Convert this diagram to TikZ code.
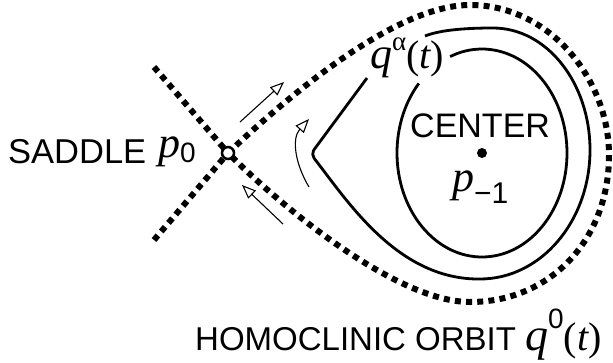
\documentclass[tikz,border=0pt]{standalone}
\usepackage{fontspec}
\setmainfont{Liberation Sans}
\newfontfamily\serif{Liberation Serif}
\usetikzlibrary{arrows.meta}
\newcommand\fsz[1]{\fontsize{#1}{#1}\selectfont}
\newcommand\mi[1]{{\serif\itshape #1}}
\newcommand\mr[1]{{\serif #1}}
\begin{document}
\begin{tikzpicture}[x=1pt,y=1pt,
  manifold/.style={line width=6pt, dash pattern=on 6pt off 5.2pt},
  orbit/.style={line width=2.8pt},
  flow/.style={line width=1.1pt, -{Triangle[open,length=14pt,width=11pt,line width=1.1pt]}},
  lbl/.style={inner sep=0pt, anchor=base west},
]
\useasboundingbox (0,0) rectangle (613,-362);

\coordinate (S) at (228,-153);
\coordinate (UL) at (154,-67);
\coordinate (LL) at (154,-240);
\coordinate (C) at (482,-153);

% saddle manifolds
\draw[manifold] (UL) -- (S);
\draw[manifold] (LL) -- (S);

% homoclinic orbit
\draw[manifold] (S) .. controls (300,-85) and (400,-5) .. (470,-5)
  .. controls (550,-5) and (609,-80) .. (609,-155)
  .. controls (609,-240) and (550,-302) .. (470,-302)
  .. controls (400,-302) and (290,-215) .. (S);

% outer periodic orbit q^alpha
\draw[orbit] (367,-78) -- (316,-147) .. controls (311,-153) and (312,-156) .. (317,-162)
  .. controls (350,-205) and (400,-280) .. (480,-279)
  .. controls (541,-279) and (590,-221) .. (590,-150)
  .. controls (590,-83) and (547,-28) .. (493,-28)
  .. controls (465,-28) and (440,-30) .. (425,-36);

% inner periodic orbit
\draw[orbit] (C) ++(138:85 and 104) arc[start angle=138, end angle=472, x radius=85, y radius=104];

% saddle point and center
\node[circle, draw, line width=2.5pt, fill=white, minimum size=12pt, inner sep=0pt] (sad) at (S) {};
\fill (C) circle (5pt);
\node[inner sep=0pt, minimum size=0pt] (cen) at (C) {};

% flow arrows
\coordinate (a1s) at (240,-122); \coordinate (a1e) at (284,-82);
\coordinate (a2s) at (283,-224); \coordinate (a2e) at (242,-185);
\coordinate (a3s) at (309,-187); \coordinate (a3e) at (309,-119);
\draw[flow] (a1s) -- (a1e);
\draw[flow] (a2s) -- (a2e);
\draw[flow] (a3s) to[out=121,in=228] (a3e);

% labels
\node[lbl] (saddle) at (8,-163) {\fsz{34.5}SADDLE};
\node[lbl] (p0) at (158,-157) {\fsz{44}\mi{p}\raisebox{-5pt}{\fsz{28}0}};
\node[lbl] (center) at (410,-137) {\fsz{34}CENTER};
\node[lbl] (pm1) at (452,-191) {\fsz{44}\mi{p}\raisebox{-12pt}{\fsz{30}−1}};
\node[lbl] (qa) at (370,-68) {\fsz{44}\mi{q}\raisebox{18pt}{\fsz{27}\mr{α}}\fsz{40}\mr{(}\mi{t}\mr{)}};
\node[lbl] (homo) at (195,-350) {\fsz{33}HOMOCLINIC ORBIT \fsz{46}\mi{q}\raisebox{22pt}{\fsz{28}0}\fsz{40}\mr{(}\mi{t}\mr{)}};
\end{tikzpicture}
\end{document}
